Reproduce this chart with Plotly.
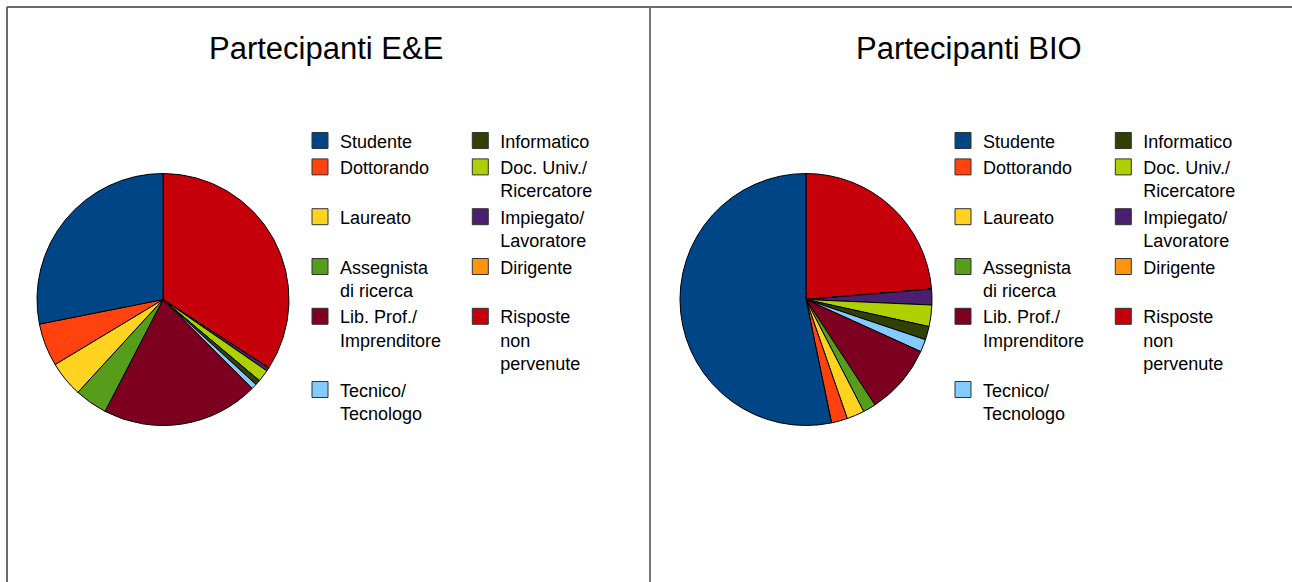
import plotly.graph_objects as go

# ---------------- data ----------------
categories = ["Studente", "Dottorando", "Laureato", "Assegnista di ricerca",
              "Lib. Prof./Imprenditore", "Tecnico/Tecnologo", "Informatico",
              "Doc. Univ./Ricercatore", "Impiegato/Lavoratore", "Dirigente",
              "Risposte non pervenute"]
legend_labels = ["Studente", "Dottorando", "Laureato", "Assegnista<br>di ricerca",
                 "Lib. Prof./<br>Imprenditore", "Tecnico/<br>Tecnologo", "Informatico",
                 "Doc. Univ./<br>Ricercatore", "Impiegato/<br>Lavoratore", "Dirigente",
                 "Risposte<br>non<br>pervenute"]
colors = ["#004586", "#ff420e", "#ffd320", "#579d1c", "#7e0021", "#83caff",
          "#314004", "#aecf00", "#4b1f6f", "#ff950e", "#c5000b"]
values_ee = [28.1, 5.5, 4.55, 4.2, 20.1, 0.7, 0.65, 1.55, 0.45, 0, 34.1]
values_bio = [53.25, 2.06, 2.26, 1.65, 9.0, 1.61, 1.72, 2.75, 2.03, 0, 23.67]
titles = ["Partecipanti E&E", "Partecipanti BIO"]

# ---------------- geometry (pixels) ----------------
W, H = 1292, 582
FONT = "Liberation Sans"
panel_shift = 643
pie_cx, pie_cy, pie_r = 163, 299.5, 126
title_cx, title_cy = 326, 48.5
leg_col_x = [301, 461.3]
leg_top = 122.3

def px(x):
    return x / W

def py(y):
    return 1 - y / H

fig = go.Figure()

# pies: the first category starts at 12 o'clock and runs counter-clockwise,
# which is the reversed list drawn clockwise from 12 o'clock
for i, vals in enumerate([values_ee, values_bio]):
    cx = pie_cx + i * panel_shift
    fig.add_trace(go.Pie(
        labels=categories[::-1], values=vals[::-1], sort=False,
        direction="clockwise", rotation=0, textinfo="none",
        hoverinfo="label+percent",
        marker=dict(colors=colors[::-1], line=dict(color="#000000", width=1)),
        domain=dict(x=[px(cx - pie_r), px(cx + pie_r)],
                    y=[py(pie_cy + pie_r), py(pie_cy - pie_r)]),
        showlegend=False,
    ))

# legend columns (column-major as in the original)
col1 = list(range(0, 6))
col2 = list(range(6, 11))
nlines = [lab.count("<br>") + 1 for lab in legend_labels]
padded = list(legend_labels)
for r in range(len(col1)):
    row = [col1[r]] + ([col2[r]] if r < len(col2) else [])
    m = max(nlines[k] for k in row)
    for k in row:
        padded[k] = legend_labels[k] + "<br> " * (m - nlines[k])

legend_names = ["legend", "legend2", "legend3", "legend4"]
for p in range(2):
    for c, col in enumerate([col1, col2]):
        lname = legend_names[p * 2 + c]
        for k in col:
            fig.add_trace(go.Scatter(
                x=[None], y=[None], mode="markers", name=padded[k],
                marker=dict(symbol="square", size=16, color=colors[k],
                            line=dict(color="#333333", width=1)),
                legend=lname, showlegend=True, hoverinfo="skip",
            ))

legend_common = dict(orientation="v", xanchor="left", yanchor="top",
                     valign="top", bgcolor="rgba(0,0,0,0)", borderwidth=0,
                     font=dict(family=FONT, size=18, color="#000000"),
                     tracegroupgap=0, itemclick=False, itemdoubleclick=False)
layout_legends = {}
for p in range(2):
    for c in range(2):
        lname = legend_names[p * 2 + c]
        layout_legends[lname] = dict(legend_common,
                                     x=px(leg_col_x[c] - 1 + p * panel_shift),
                                     y=py(leg_top))

annotations = []
for i, t in enumerate(titles):
    annotations.append(dict(
        text=t, x=px(title_cx + i * panel_shift), y=py(title_cy),
        xref="paper", yref="paper", xanchor="center", yanchor="middle",
        showarrow=False, font=dict(family=FONT, size=31, color="#000000")))

shapes = [
    dict(type="line", xref="paper", yref="paper", x0=px(7), x1=px(W), y0=py(7), y1=py(7),
         line=dict(color="#3a3a3a", width=1.5)),
    dict(type="line", xref="paper", yref="paper", x0=px(7), x1=px(7), y0=py(7), y1=py(H),
         line=dict(color="#6a6a6a", width=2)),
    dict(type="line", xref="paper", yref="paper", x0=px(650), x1=px(650), y0=py(7), y1=py(H),
         line=dict(color="#777777", width=2)),
]

fig.update_layout(
    width=W, height=H, margin=dict(l=0, r=0, t=0, b=0),
    paper_bgcolor="#ffffff", plot_bgcolor="#ffffff",
    font=dict(family=FONT, color="#000000"),
    xaxis=dict(visible=False), yaxis=dict(visible=False),
    annotations=annotations, shapes=shapes,
    **layout_legends,
)

fig.write_html("out.html", config={"displayModeBar": False},
               post_script="document.body.style.margin='0';")
